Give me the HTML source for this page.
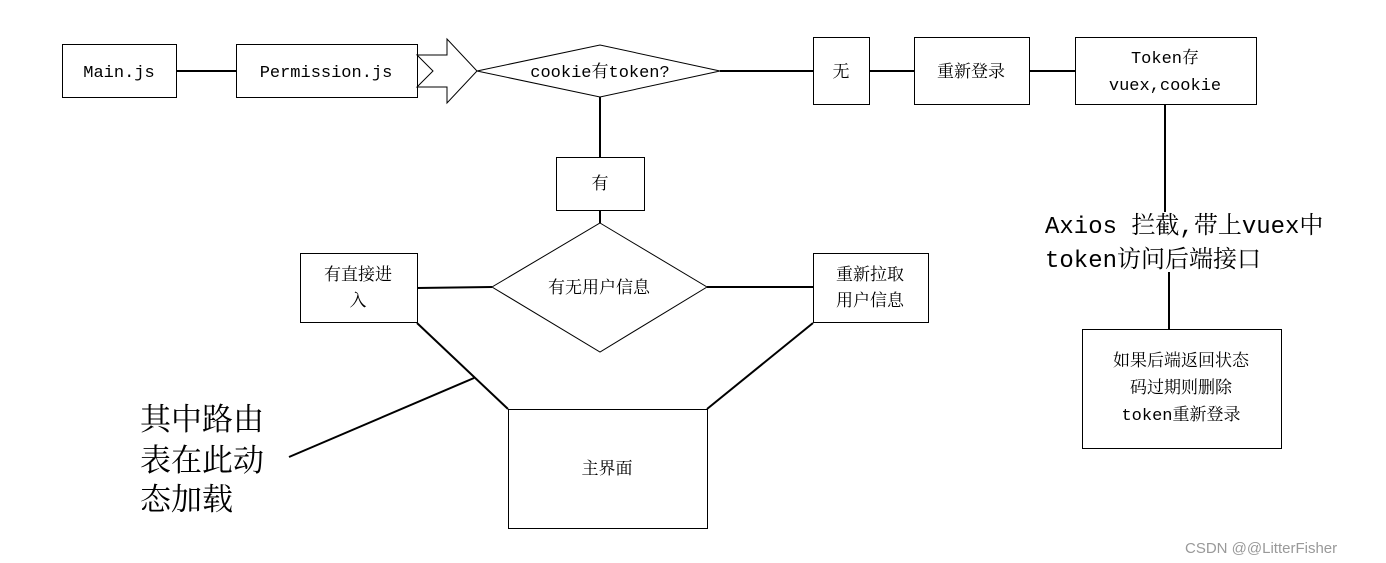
<!DOCTYPE html>
<html><head><meta charset="utf-8"><style>
html,body{margin:0;padding:0;background:#fff;}
svg{display:block;}
text{font-family:"Liberation Mono","Noto Serif CJK SC",monospace;fill:#000;}
</style></head><body>
<svg width="1386" height="563" viewBox="0 0 1386 563" xmlns="http://www.w3.org/2000/svg">
<g fill="none" stroke="#000" stroke-width="1">
<rect x="62.5" y="44.5" width="114" height="53"/>
<rect x="236.5" y="44.5" width="181" height="53"/>
<polygon points="417,55 447,55 447,39 477,71 447,103 447,87 417,87 433,71"/>
<polygon points="477,71 600,45 720,71 600,97"/>
<rect x="813.5" y="37.5" width="56" height="67"/>
<rect x="914.5" y="37.5" width="115" height="67"/>
<rect x="1075.5" y="37.5" width="181" height="67"/>
<rect x="1082.5" y="329.5" width="199" height="119"/>
<rect x="556.5" y="157.5" width="88" height="53"/>
<polygon points="600,223 707,287 600,352 492,287"/>
<rect x="300.5" y="253.5" width="117" height="69"/>
<rect x="813.5" y="253.5" width="115" height="69"/>
<rect x="508.5" y="409.5" width="199" height="119"/>
</g>
<g stroke="#000" stroke-width="2" fill="none">
<line x1="176" y1="71" x2="236" y2="71"/>
<line x1="720" y1="71" x2="813" y2="71"/>
<line x1="869" y1="71" x2="914" y2="71"/>
<line x1="1029" y1="71" x2="1075" y2="71"/>
<line x1="1165" y1="104" x2="1165" y2="212"/>
<line x1="1169" y1="272" x2="1169" y2="329"/>
<line x1="600" y1="97" x2="600" y2="157"/>
<line x1="600" y1="210" x2="600" y2="223"/>
<line x1="417" y1="288" x2="492" y2="287"/>
<line x1="707" y1="287" x2="813" y2="287"/>
<line x1="417" y1="323" x2="508" y2="409"/>
<line x1="813" y1="323" x2="707" y2="409"/>
<line x1="474" y1="378" x2="289" y2="457"/>
</g>
<g font-size="17" text-anchor="middle">
<text x="119" y="77">Main.js</text>
<text x="326" y="77">Permission.js</text>
<text x="600" y="77">cookie有token?</text>
<text x="841" y="77">无</text>
<text x="971" y="77">重新登录</text>
<text x="1165" y="63">Token存</text>
<text x="1165" y="90">vuex,cookie</text>
<text x="600" y="189">有</text>
<text x="599" y="293">有无用户信息</text>
<text x="358" y="280">有直接进</text>
<text x="358" y="306">入</text>
<text x="870" y="280">重新拉取</text>
<text x="870" y="306">用户信息</text>
<text x="1181" y="366">如果后端返回状态</text>
<text x="1181" y="393">码过期则删除</text>
<text x="1181" y="420">token重新登录</text>
<text x="607" y="474">主界面</text>
</g>
<g font-size="24">
<text x="1045" y="233">Axios 拦截,带上vuex中</text>
<text x="1045" y="267">token访问后端接口</text>
</g>
<g font-size="31">
<text x="140" y="430">其中路由</text>
<text x="140" y="471">表在此动</text>
<text x="140" y="510">态加载</text>
</g>
<text x="1185" y="553" font-size="15" style="fill:#999;font-family:'Liberation Sans','Noto Sans CJK SC',sans-serif">CSDN @@LitterFisher</text>
</svg>
</body></html>
